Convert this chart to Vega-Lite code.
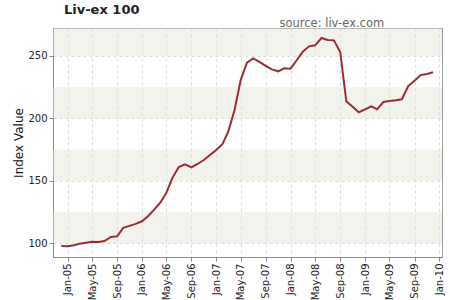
{
  "$schema": "https://vega.github.io/schema/vega-lite/v6.json",
  "width": 389,
  "height": 229,
  "autosize": {"type": "none"},
  "padding": {"left": 53, "top": 28, "right": 8, "bottom": 43},
  "background": "white",
  "config": {
    "view": {"stroke": "#9a9a9a", "strokeWidth": 1},
    "font": "DejaVu Sans",
    "axis": {
      "labelFont": "DejaVu Sans",
      "labelFontSize": 10,
      "labelColor": "#222",
      "titleFont": "DejaVu Sans",
      "titleFontWeight": "normal",
      "titleColor": "#111",
      "domainColor": "#888",
      "tickColor": "#888",
      "tickSize": 4,
      "gridColor": "#dcdcdc",
      "gridDash": [3, 3]
    }
  },
  "title": {
    "text": "Liv-ex 100",
    "anchor": "start",
    "frame": "group",
    "dx": 11,
    "dy": 13,
    "offset": 3,
    "baseline": "alphabetic",
    "font": "DejaVu Sans",
    "fontSize": 13,
    "fontWeight": "bold",
    "color": "#222"
  },
  "datasets": {
    "bands": [
      {"lo": 100, "hi": 125},
      {"lo": 150, "hi": 175},
      {"lo": 200, "hi": 225},
      {"lo": 250, "hi": 275}
    ],
    "index": [
      {"date": "2004-12-01", "value": 97.8},
      {"date": "2005-01-01", "value": 97.6},
      {"date": "2005-02-01", "value": 98.4},
      {"date": "2005-03-01", "value": 99.7},
      {"date": "2005-04-01", "value": 100.5},
      {"date": "2005-05-01", "value": 101.3},
      {"date": "2005-06-01", "value": 101.0},
      {"date": "2005-07-01", "value": 101.8},
      {"date": "2005-08-01", "value": 105.0},
      {"date": "2005-09-01", "value": 105.6},
      {"date": "2005-10-01", "value": 112.3},
      {"date": "2005-11-01", "value": 113.9},
      {"date": "2005-12-01", "value": 115.5},
      {"date": "2006-01-01", "value": 117.6},
      {"date": "2006-02-01", "value": 121.9},
      {"date": "2006-03-01", "value": 126.7},
      {"date": "2006-04-01", "value": 132.5},
      {"date": "2006-05-01", "value": 140.5},
      {"date": "2006-06-01", "value": 152.8},
      {"date": "2006-07-01", "value": 161.1},
      {"date": "2006-08-01", "value": 163.2},
      {"date": "2006-09-01", "value": 160.8},
      {"date": "2006-10-01", "value": 163.5},
      {"date": "2006-11-01", "value": 166.7},
      {"date": "2006-12-01", "value": 170.7},
      {"date": "2007-01-01", "value": 174.7},
      {"date": "2007-02-01", "value": 179.5},
      {"date": "2007-03-01", "value": 189.4},
      {"date": "2007-04-01", "value": 206.7},
      {"date": "2007-05-01", "value": 230.7},
      {"date": "2007-06-01", "value": 244.6},
      {"date": "2007-07-01", "value": 248.1},
      {"date": "2007-08-01", "value": 245.2},
      {"date": "2007-09-01", "value": 242.0},
      {"date": "2007-10-01", "value": 239.3},
      {"date": "2007-11-01", "value": 237.7},
      {"date": "2007-12-01", "value": 240.1},
      {"date": "2008-01-01", "value": 239.8},
      {"date": "2008-02-01", "value": 246.8},
      {"date": "2008-03-01", "value": 253.4},
      {"date": "2008-04-01", "value": 257.7},
      {"date": "2008-05-01", "value": 258.5},
      {"date": "2008-06-01", "value": 264.4},
      {"date": "2008-07-01", "value": 262.8},
      {"date": "2008-08-01", "value": 262.5},
      {"date": "2008-09-01", "value": 253.2},
      {"date": "2008-10-01", "value": 213.7},
      {"date": "2008-11-01", "value": 209.4},
      {"date": "2008-12-01", "value": 204.9},
      {"date": "2009-01-01", "value": 207.3},
      {"date": "2009-02-01", "value": 209.7},
      {"date": "2009-03-01", "value": 207.3},
      {"date": "2009-04-01", "value": 213.1},
      {"date": "2009-05-01", "value": 213.9},
      {"date": "2009-06-01", "value": 214.5},
      {"date": "2009-07-01", "value": 215.3},
      {"date": "2009-08-01", "value": 225.9},
      {"date": "2009-09-01", "value": 230.2},
      {"date": "2009-10-01", "value": 234.7},
      {"date": "2009-11-01", "value": 235.5},
      {"date": "2009-12-01", "value": 236.9}
    ]
  },
  "resolve": {"axis": {"x": "independent"}},
  "layer": [
    {
      "data": {"name": "bands"},
      "mark": {"type": "rect", "fill": "#E2E2D3", "opacity": 0.42, "clip": true},
      "encoding": {
        "y": {"field": "lo", "type": "quantitative", "scale": {"domain": [89, 272.4], "nice": false, "zero": false}},
        "y2": {"field": "hi"}
      }
    },
    {
      "data": {"name": "index"},
      "mark": {"type": "line", "color": "#9B2C31", "strokeWidth": 2},
      "encoding": {
        "x": {
          "field": "date",
          "type": "temporal",
          "scale": {"domain": [{"year": 2004, "month": 10, "date": 21}, {"year": 2010, "month": 1, "date": 14}]},
          "axis": {
            "orient": "bottom",
            "title": null,
            "format": "%b-%y",
            "labelAngle": -90,
            "labelPadding": 2,
            "tickCount": {"interval": "month", "step": 4},
            "grid": true
          }
        },
        "y": {
          "field": "value",
          "type": "quantitative",
          "scale": {"domain": [89, 272.4], "nice": false, "zero": false},
          "axis": {
            "title": "Index Value",
            "titleFontSize": 12,
            "titlePadding": 2,
            "values": [100, 125, 150, 175, 200, 225, 250],
            "labelPadding": 2,
            "grid": true
          }
        }
      }
    },
    {
      "data": {"name": "index"},
      "mark": {"type": "line", "opacity": 0},
      "encoding": {
        "x": {
          "field": "date",
          "type": "temporal",
          "axis": {
            "orient": "top",
            "labels": false,
            "ticks": false,
            "domain": false,
            "grid": false,
            "title": "source: liv-ex.com",
            "titleX": 226,
            "titleY": -2,
            "titleAlign": "left",
            "titleAnchor": null,
            "titleBaseline": "alphabetic",
            "titleFontSize": 11.5,
            "titleColor": "#666"
          }
        },
        "y": {"field": "value", "type": "quantitative"}
      }
    }
  ]
}
